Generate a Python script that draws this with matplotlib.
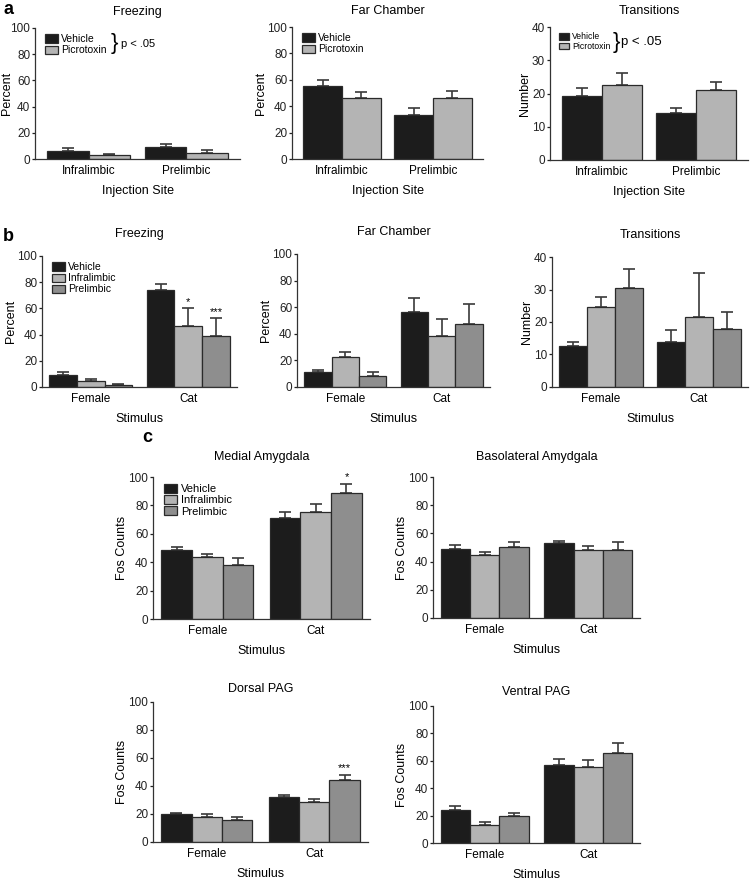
import numpy as np
import matplotlib
matplotlib.use("Agg")
import matplotlib.pyplot as plt

plt.rcParams['font.family'] = ['Liberation Sans', 'DejaVu Sans']
plt.rcParams['font.size'] = 8

# ---- data ----
sites = ['Infralimbic', 'Prelimbic']
stimuli = ['Female', 'Cat']
a_groups = ['Vehicle', 'Picrotoxin']
bc_groups = ['Vehicle', 'Infralimbic', 'Prelimbic']

# panel a: rows = group, cols = site
a_freeze = [[6.1, 9.2], [2.8, 4.6]]
a_freeze_err = [[2.1, 2.3], [1.0, 2.3]]
a_far = [[55.6, 33.0], [46.2, 46.2]]
a_far_err = [[4.0, 5.9], [4.3, 5.3]]
a_trans = [[19.3, 14.2], [22.7, 21.2]]
a_trans_err = [[2.4, 1.3], [3.6, 2.3]]

# panel b: rows = group, cols = stimulus
b_freeze = [[8.9, 74.2], [4.3, 46.9], [1.8, 38.8]]
b_freeze_err = [[2.6, 4.8], [1.8, 13.3], [0.8, 13.8]]
b_far = [[11.1, 56.2], [22.7, 38.3], [8.1, 47.1]]
b_far_err = [[2.0, 10.6], [3.7, 13.1], [3.0, 15.1]]
b_trans = [[12.5, 13.7], [24.7, 21.4], [30.4, 17.8]]
b_trans_err = [[1.4, 3.8], [3.0, 13.7], [6.0, 5.3]]

# panel c: Fos counts
c_medial = [[48.4, 70.9], [43.9, 75.4], [38.0, 88.7]]
c_medial_err = [[2.3, 4.2], [1.9, 5.4], [5.2, 6.6]]
c_baso = [[49.2, 53.0], [44.9, 48.2], [50.4, 48.0]]
c_baso_err = [[2.8, 1.6], [1.9, 2.9], [3.5, 5.7]]
c_dorsal = [[19.7, 32.0], [18.0, 28.7], [15.6, 44.3]]
c_dorsal_err = [[1.2, 1.9], [1.9, 1.9], [2.6, 3.6]]
c_ventral = [[24.3, 56.9], [13.1, 55.5], [19.7, 65.9]]
c_ventral_err = [[2.7, 4.4], [2.0, 5.3], [2.4, 6.8]]

colors2 = ['#1c1c1c', '#b4b4b4']
colors3 = ['#1c1c1c', '#b4b4b4', '#8e8e8e']

W, H = 751, 883
fig = plt.figure(figsize=(W / 100, H / 100), dpi=100)


def box(x0, y0, x1, y1):
    return fig.add_axes([x0 / W, 1 - y1 / H, (x1 - x0) / W, (y1 - y0) / H])


def bars(ax, vals, errs, labels, colors, cats, ymax, ystep, ylabel, xlabel,
         title, stars=None, legend=None, xlim=(-0.5, 1.5), tpad=14):
    n = len(vals)
    width = 0.85 / n
    x = np.arange(len(cats))
    for i in range(n):
        pos = x + (i - (n - 1) / 2) * width
        ax.bar(pos, vals[i], width, color=colors[i], edgecolor='#2a2a2a',
               linewidth=0.9, label=labels[i], zorder=2)
        ax.errorbar(pos, vals[i], yerr=[np.zeros(len(cats)), errs[i]],
                    fmt='none', ecolor='#3a3a3a', elinewidth=1.2,
                    capsize=4, capthick=1.2, zorder=1)
    if stars:
        for (i, j), s in stars.items():
            pos = j + (i - (n - 1) / 2) * width
            ax.text(pos, vals[i][j] + errs[i][j] + ymax * 0.01, s,
                    ha='center', va='bottom', fontsize=8)
    ax.set_ylim(0, ymax)
    ax.set_xlim(*xlim)
    ax.set_yticks(np.arange(0, ymax + 1, ystep))
    ax.set_xticks(x)
    ax.set_xticklabels(cats, fontsize=8.5)
    ax.tick_params(axis='x', length=0, pad=4)
    ax.tick_params(axis='y', length=2.5, width=0.9, labelsize=8.5, pad=1,
                   colors='#222222')
    for s in ['top', 'right']:
        ax.spines[s].set_visible(False)
    for s in ['left', 'bottom']:
        ax.spines[s].set_linewidth(0.9)
        ax.spines[s].set_color('#333333')
    ax.set_ylabel(ylabel, fontsize=9, labelpad=0.5)
    ax.set_xlabel(xlabel, fontsize=9, labelpad=6)
    ax.set_title(title, fontsize=9, pad=tpad)
    if legend:
        ax.legend(loc='upper left', bbox_to_anchor=(0.02, 1.0), frameon=False,
                  fontsize=legend, handlelength=1.2, handleheight=0.85,
                  handletextpad=0.3, labelspacing=0.1, borderaxespad=0.2)
    return ax


# ---- panel a ----
ax = box(35, 28, 240, 159)
bars(ax, a_freeze, a_freeze_err, a_groups, colors2, sites, 100, 20, 'Percent',
     'Injection Site', 'Freezing', legend=7.5, xlim=(-0.55, 1.55), tpad=9)
ax.yaxis.set_label_coords(-0.105, 0.5)
ax.text(0.37, 0.88, '}', transform=ax.transAxes, fontsize=16, va='center',
        ha='left', fontweight='light')
ax.text(0.42, 0.88, 'p < .05', transform=ax.transAxes, fontsize=8, va='center')

ax = box(292, 27, 483, 159)
bars(ax, a_far, a_far_err, a_groups, colors2, sites, 100, 20, 'Percent',
     'Injection Site', 'Far Chamber', legend=7.5, xlim=(-0.55, 1.55), tpad=9)

ax = box(550, 27, 748, 160)
bars(ax, a_trans, a_trans_err, a_groups, colors2, sites, 40, 10, 'Number',
     'Injection Site', 'Transitions', legend=6.2, xlim=(-0.55, 1.55), tpad=9)
ax.text(0.315, 0.885, '}', transform=ax.transAxes, fontsize=16, va='center',
        ha='left', fontweight='light')
ax.text(0.36, 0.885, 'p < .05', transform=ax.transAxes, fontsize=9.5, va='center')

# ---- panel b ----
ax = box(42, 256, 237, 387)
bars(ax, b_freeze, b_freeze_err, bc_groups, colors3, stimuli, 100, 20, 'Percent',
     'Stimulus', 'Freezing', stars={(1, 1): '*', (2, 1): '***'}, legend=7.5)

ax = box(297, 254, 490, 387)
bars(ax, b_far, b_far_err, bc_groups, colors3, stimuli, 100, 20, 'Percent',
     'Stimulus', 'Far Chamber')

ax = box(552, 257, 748, 387)
bars(ax, b_trans, b_trans_err, bc_groups, colors3, stimuli, 40, 10, 'Number',
     'Stimulus', 'Transitions')

# ---- panel c ----
ax = box(153, 477, 370, 619)
bars(ax, c_medial, c_medial_err, bc_groups, colors3, stimuli, 100, 20,
     'Fos Counts', 'Stimulus', 'Medial Amygdala', stars={(2, 1): '*'},
     legend=8, tpad=12)

ax = box(433, 477, 640, 618)
bars(ax, c_baso, c_baso_err, bc_groups, colors3, stimuli, 100, 20,
     'Fos Counts', 'Stimulus', 'Basolateral Amydgala', tpad=12)

ax = box(153, 702, 368, 842)
bars(ax, c_dorsal, c_dorsal_err, bc_groups, colors3, stimuli, 100, 20,
     'Fos Counts', 'Stimulus', 'Dorsal PAG', stars={(2, 1): '***'}, tpad=7)

ax = box(433, 706, 640, 843)
bars(ax, c_ventral, c_ventral_err, bc_groups, colors3, stimuli, 100, 20,
     'Fos Counts', 'Stimulus', 'Ventral PAG', tpad=8)

# panel letters
fig.text(3 / W, 1 - 1 / H, 'a', fontsize=13, fontweight='bold', va='top')
fig.text(3 / W, 1 - 228 / H, 'b', fontsize=13, fontweight='bold', va='top')
fig.text(142 / W, 1 - 429 / H, 'c', fontsize=13, fontweight='bold', va='top')

fig.savefig('out.png', dpi=100)
